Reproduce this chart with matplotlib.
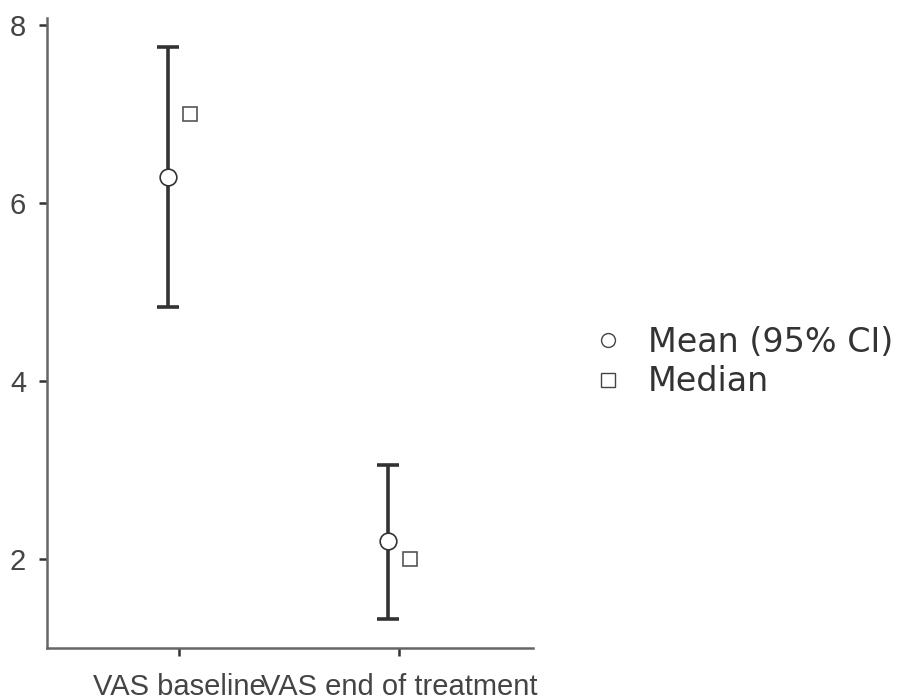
import matplotlib
matplotlib.use("Agg")
import matplotlib.pyplot as plt
from matplotlib.lines import Line2D

plt.rcParams['font.family'] = ['Liberation Sans', 'DejaVu Sans']

categories = ["VAS baseline", "VAS end of treatment"]
means = [6.29, 2.20]
ci_low = [4.83, 1.33]
ci_high = [7.75, 3.06]
medians = [7.0, 2.0]

fig = plt.figure(figsize=(9.05, 7.0), dpi=100)
ax = fig.add_axes([47 / 905, 52 / 700, 486 / 905, 630 / 700])

xs = list(range(len(categories)))
off = 0.05
for i, x in enumerate(xs):
    ax.errorbar(x - off, means[i],
                yerr=[[means[i] - ci_low[i]], [ci_high[i] - means[i]]],
                fmt='none', ecolor='#333333', elinewidth=2.6, capsize=8,
                capthick=2.6, zorder=2)
ax.plot([x - off for x in xs], means, linestyle='none', marker='o',
        markersize=12, markerfacecolor='white', markeredgecolor='#333333',
        markeredgewidth=1.2, zorder=3)
ax.plot([x + off for x in xs], medians, linestyle='none', marker='s',
        markersize=10.5, markerfacecolor='white', markeredgecolor='#555555',
        markeredgewidth=1.2, zorder=3)

ax.set_xlim(-0.6, 1.61)
ax.set_ylim(1.0, 8.08)
ax.set_xticks(xs)
ax.set_xticklabels(categories)
ax.set_yticks([2, 4, 6, 8])

for s in ['top', 'right']:
    ax.spines[s].set_visible(False)
for s in ['left', 'bottom']:
    ax.spines[s].set_color('#666666')
    ax.spines[s].set_linewidth(1.8)
ax.tick_params(axis='both', length=6, width=1.8, color='#333333',
               labelsize=21, labelcolor='#444444')
ax.tick_params(axis='x', pad=12)
ax.tick_params(axis='y', pad=9)

handles = [
    Line2D([], [], linestyle='none', marker='o', markersize=10,
           markerfacecolor='white', markeredgecolor='#444444', markeredgewidth=1.0),
    Line2D([], [], linestyle='none', marker='s', markersize=9.5,
           markerfacecolor='white', markeredgecolor='#444444', markeredgewidth=1.0),
]
fig.legend(handles, ["Mean (95% CI)", "Median"], loc='center left',
           bbox_to_anchor=(591 / 905, 1 - 362 / 700), frameon=False,
           prop={'family': 'DejaVu Sans', 'size': 24}, labelcolor='#333333',
           handletextpad=0.7, labelspacing=0.2, handlelength=1.0,
           borderaxespad=0, borderpad=0)

fig.savefig("out.png", dpi=100)
